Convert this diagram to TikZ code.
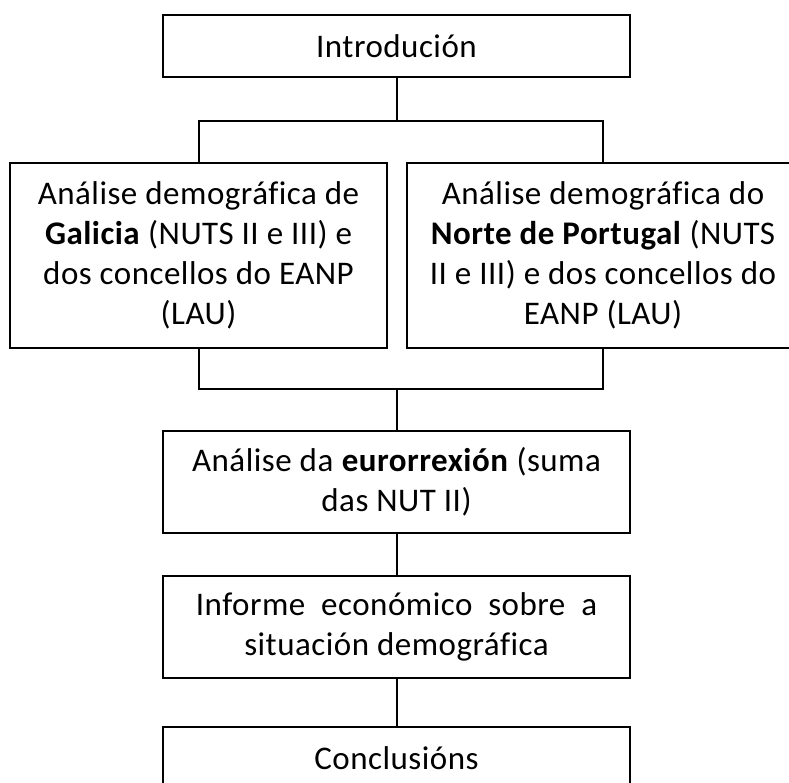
\documentclass[tikz,border=0pt]{standalone}
\usepackage{fontspec}
\setmainfont{Carlito}[Ligatures=NoCommon, LetterSpace=1.5]
\usetikzlibrary{positioning,calc}

\begin{document}
\begin{tikzpicture}[
    x=1pt, y=-1pt,
    % Node styles
    box/.style={draw, rectangle, line width=2pt, align=center, inner sep=0pt,
                font=\fontsize{33}{40}\selectfont},
    single/.style={box, minimum width=467pt, minimum height=62pt},
    double/.style={box, minimum width=467pt, minimum height=102pt},
    region/.style={box, minimum height=185pt},
    link/.style={line width=2pt},
]

\useasboundingbox (0,0) rectangle (789,783);

% ============================================================
% Boxes
% ============================================================
\node[single] (intro) at (396.5, 46) {Introdución};

\node[region, minimum width=377pt] (galicia) at (198.5, 255.5)
  {Análise demográfica de\\\textbf{Galicia} (NUTS II e III) e\\dos concellos do EANP\\(LAU)};
\node[region, minimum width=392pt] (norte) at (603, 255.5)
  {Análise demográfica do\\\textbf{Norte de Portugal} (NUTS\\II e III) e dos concellos do\\EANP (LAU)};

\node[double] (euro) at (396.5, 482) {Análise da \textbf{eurorrexión} (suma\\das NUT II)};
\node[double] (informe) at (396.5, 626.5) {Informe\ \ económico\ \ sobre\ \ a\\situación demográfica};

\node[single] (concl) at (396.5, 758) {Conclusións};

% ============================================================
% Connectors
% ============================================================
\coordinate (split) at (396.5, 121);
\coordinate (join) at (396.5, 389);

\draw[link] (intro) -- (split);
\draw[link] (galicia.north) |- (split) -| (norte.north);
\draw[link] (galicia.south) |- (join) -| (norte.south);
\draw[link] (join) -- (euro);
\draw[link] (euro) -- (informe);
\draw[link] (informe) -- (concl);

\end{tikzpicture}
\end{document}
